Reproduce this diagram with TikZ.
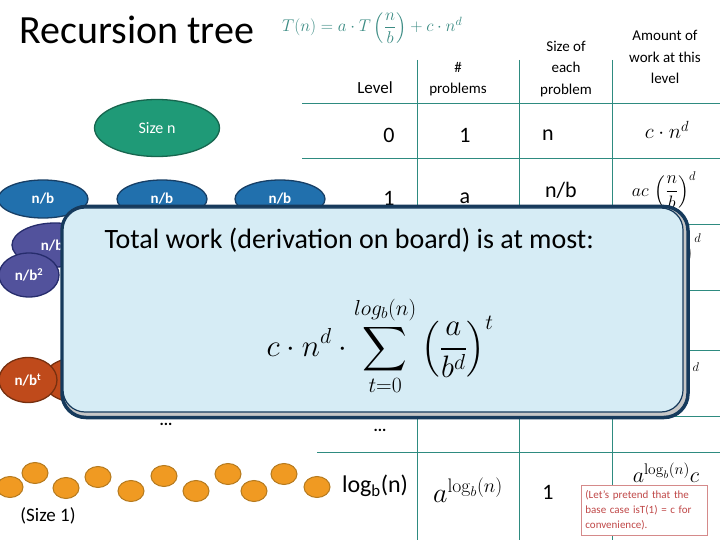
\RequirePackage{fix-cm}
\documentclass[tikz,border=0pt]{standalone}
\usepackage{amsmath, amssymb}
\usepackage[no-math]{fontspec}
\setmainfont{Carlito}
\usetikzlibrary{positioning,shapes.geometric}
\definecolor{gridteal}{HTML}{2E8B80}
\definecolor{eqteal}{HTML}{3C8C84}
\definecolor{rootfill}{HTML}{1F9A77}
\definecolor{rootdraw}{HTML}{17664F}
\definecolor{lvlonefill}{HTML}{2170AD}
\definecolor{lvlonedraw}{HTML}{173F66}
\definecolor{lvltwofill}{HTML}{52529C}
\definecolor{lvltwodraw}{HTML}{262C6C}
\definecolor{lvltfill}{HTML}{BF4A1B}
\definecolor{lvltdraw}{HTML}{77300F}
\definecolor{leaffill}{HTML}{F09A22}
\definecolor{leafdraw}{HTML}{B57A1E}
\definecolor{panelfill}{HTML}{D6ECF5}
\definecolor{paneldraw}{HTML}{163A5C}
\definecolor{notedraw}{HTML}{D58A8A}
\definecolor{notetext}{HTML}{C04848}
\tikzset{
  rootnode/.style={ellipse, draw=rootdraw, line width=1.3pt, fill=rootfill, text=white, minimum width=125pt, minimum height=57pt, font=\fontsize{16}{18}\selectfont},
  subnode/.style={ellipse, draw=lvlonedraw, line width=1.3pt, fill=lvlonefill, text=white, minimum width=90pt, minimum height=38pt, font=\bfseries\fontsize{15}{18}\selectfont},
  subnode2/.style={ellipse, draw=lvltwodraw, line width=1.3pt, fill=lvltwofill, text=white, minimum width=86pt, minimum height=44pt, font=\bfseries\fontsize{15}{18}\selectfont},
  subnodet/.style={ellipse, draw=lvltdraw, line width=1.3pt, fill=lvltfill, text=white, minimum width=70pt, minimum height=45pt, font=\bfseries\fontsize{15}{18}\selectfont},
  leaf/.style={ellipse, draw=leafdraw, line width=1pt, fill=leaffill, minimum width=26pt, minimum height=21pt, inner sep=0pt},
  headtext/.style={align=center, font=\fontsize{15}{21.5}\selectfont},
  celltext/.style={font=\fontsize{22}{26}\selectfont},
  gridline/.style={draw=gridteal, line width=0.9pt},
  panelback/.style={draw=paneldraw, line width=3.5pt, fill=black!22, rounded corners=24pt, minimum width=626pt, minimum height=211pt},
  panelbox/.style={draw=paneldraw, line width=1.2pt, fill=panelfill, rounded corners=22pt, minimum width=620pt, minimum height=204pt},
  notebox/.style={draw=notedraw, line width=0.8pt, fill=white, text=notetext, align=left, text width=118pt, inner sep=4pt, font=\fontsize{11}{15}\selectfont}
}
\begin{document}
\begin{tikzpicture}[x=1pt, y=-1pt]
  \useasboundingbox (0,0) rectangle (720,540);
  \node[anchor=west] (title) at (16,30) {\fontsize{40}{42}\selectfont Recursion tree};
  \node[text=eqteal, anchor=west, inner sep=0pt] (recur) at (282,28) {\fontsize{17}{20}\selectfont $T(n)=a\cdot T\left(\dfrac{n}{b}\right)+c\cdot n^{d}$};

  \node[rootnode] (root) at (157,128) {Size n};
  \node[subnode] (left1) at (43,199) {n/b};
  \node[subnode] (mid1) at (162,199) {n/b};
  \node[subnode] (right1) at (280,199) {n/b};
  \node[subnode2] (upper2) at (55,245) {n/b\textsuperscript{2}};
  \node[subnode2, minimum width=60pt] (lower2) at (29,275) {n/b\textsuperscript{2}};
  \node[subnodet] (back3) at (78,380) {n/b\textsuperscript{t}};
  \node[subnodet, minimum width=58pt] (front3) at (28,380) {n/b\textsuperscript{t}};

  \draw[gridline] (302,103) -- (720,103);
  \draw[gridline] (302,158) -- (720,158);
  \draw[gridline] (302,224) -- (720,224);
  \draw[gridline] (302,290) -- (720,290);
  \draw[gridline] (302,350) -- (720,350);
  \draw[gridline] (317,416) -- (720,416);
  \draw[gridline] (317,452) -- (720,452);
  \draw[gridline] (417,60) -- (417,540);
  \draw[gridline] (519,60) -- (519,540);
  \draw[gridline] (612,60) -- (612,540);

  \node[headtext, font=\fontsize{17}{20}\selectfont] (hlevel) at (375,88) {Level};
  \node[headtext] (hcount) at (458,79) {\#\\problems};
  \node[headtext] (hsize) at (566,69) {Size of\\each\\problem};
  \node[headtext] (hwork) at (665,57) {Amount of\\work at this\\level};

  \node[celltext] (lvl0) at (389,135) {0};
  \node[celltext] (cnt0) at (465,135) {1};
  \node[celltext] (size0) at (548,135) {n};
  \node[font=\fontsize{21}{24}\selectfont] (work0) at (667,130) {$c\cdot n^{d}$};
  \node[celltext] (lvl1) at (389,198) {1};
  \node[celltext] (cnt1) at (465,198) {a};
  \node[celltext] (size1) at (561,190) {n/b};
  \node[font=\fontsize{18}{20}\selectfont] (work1) at (664,190) {$ac\,\left(\dfrac{n}{b}\right)^{d}$};
  \node[font=\fontsize{18}{20}\selectfont] (work2) at (664,252) {$a^{2}c\,\left(\dfrac{n}{b^{2}}\right)^{d}$};
  \node[font=\fontsize{18}{20}\selectfont] (workt) at (664,381) {$a^{t}c\,\left(\dfrac{n}{b^{t}}\right)^{d}$};

  \node[panelback] (shade) at (375,312) {};
  \node[panelbox] (total) at (373,310) {};
  \node[anchor=west] (totaltext) at (101,240) {\fontsize{28}{32}\selectfont Total work (derivation on board) is at most:};
  \node (sumexpr) at (380,346) {\fontsize{31}{36}\selectfont $\displaystyle c\cdot n^{d}\cdot\sum_{t=0}^{log_b(n)}\left(\frac{a}{b^{d}}\right)^{t}$};

  \node[font=\bfseries\fontsize{16}{18}\selectfont] (dots1) at (166,424) {...};
  \node[font=\bfseries\fontsize{16}{18}\selectfont] (dots2) at (380,430) {...};

  \node[leaf] (l1) at (10,487) {};
  \node[leaf] (l2) at (35,473) {};
  \node[leaf] (l3) at (66,488) {};
  \node[leaf] (l4) at (98,477) {};
  \node[leaf] (l5) at (131,491) {};
  \node[leaf] (l6) at (164,476) {};
  \node[leaf] (l7) at (196,491) {};
  \node[leaf] (l8) at (228,474) {};
  \node[leaf] (l9) at (254,491) {};
  \node[leaf] (l10) at (284,474) {};
  \node[leaf] (l11) at (317,487) {};
  \node[font=\fontsize{19}{22}\selectfont] (sizeone) at (48,516) {(Size 1)};

  \node[font=\fontsize{24}{28}\selectfont] (lvllast) at (375,486) {log$_{\text{b}}$(n)};
  \node[font=\fontsize{28}{30}\selectfont] (cntlast) at (468,490) {$a^{\log_b(n)}$};
  \node[celltext] (sizelast) at (548,492) {1};
  \node[font=\fontsize{22}{24}\selectfont] (worklast) at (666,473) {$a^{\log_b(n)}c$};
  \node[notebox, anchor=north west, minimum height=50pt] (note) at (581,485) {(Let's pretend that the\\base case isT(1) = c for\\convenience).};
\end{tikzpicture}
\end{document}
